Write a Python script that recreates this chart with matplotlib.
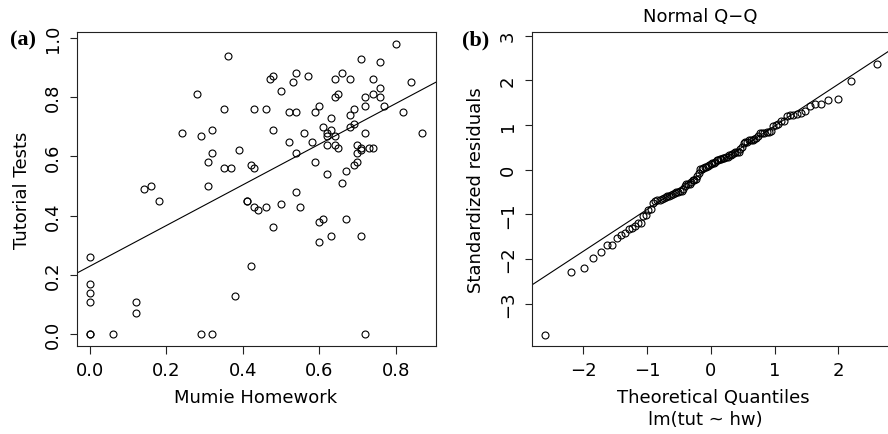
import statistics
import numpy as np
import matplotlib
matplotlib.use('Agg')
import matplotlib.pyplot as plt

# Mumie homework score vs tutorial test score, one pair per student
hw = [0.36, 0.47, 0.28, 0.35, 0.43, 0.46, 0.24, 0.29, 0.32, 0.39, 0.32, 0.31, 0.35,
      0.37, 0.42, 0.43, 0.14, 0.16, 0.31, 0.18, 0.41, 0.41, 0.43, 0.44, 0.46,
      0.00, 0.00, 0.00, 0.00, 0.00, 0.00, 0.06, 0.12, 0.12, 0.29, 0.32, 0.38, 0.42,
      0.48, 0.50, 0.54, 0.55, 0.60, 0.61, 0.60, 0.63, 0.67, 0.66, 0.71, 0.72,
      0.80, 0.71, 0.76, 0.48, 0.54, 0.53, 0.57, 0.50, 0.64, 0.66, 0.68, 0.74, 0.84,
      0.76, 0.74, 0.72, 0.76, 0.64, 0.65, 0.72, 0.77, 0.82, 0.69, 0.68, 0.60, 0.59,
      0.52, 0.54, 0.63, 0.61, 0.63, 0.62, 0.62, 0.64, 0.68, 0.69, 0.72, 0.87, 0.48,
      0.56, 0.52, 0.58, 0.62, 0.64, 0.65, 0.70, 0.71, 0.71, 0.73, 0.74, 0.70, 0.54,
      0.59, 0.70, 0.69, 0.67, 0.62]
tut = [0.94, 0.86, 0.81, 0.76, 0.76, 0.76, 0.68, 0.67, 0.69, 0.62, 0.61, 0.58, 0.56,
       0.56, 0.57, 0.56, 0.49, 0.50, 0.50, 0.45, 0.45, 0.45, 0.43, 0.42, 0.43,
       0.26, 0.17, 0.14, 0.11, 0.00, 0.00, 0.00, 0.11, 0.07, 0.00, 0.00, 0.13, 0.23,
       0.36, 0.44, 0.48, 0.43, 0.38, 0.39, 0.31, 0.33, 0.39, 0.51, 0.33, 0.00,
       0.98, 0.93, 0.92, 0.87, 0.88, 0.85, 0.87, 0.82, 0.86, 0.88, 0.86, 0.86, 0.85,
       0.83, 0.81, 0.80, 0.80, 0.80, 0.81, 0.77, 0.77, 0.75, 0.76, 0.74, 0.77, 0.75,
       0.75, 0.75, 0.73, 0.70, 0.69, 0.68, 0.67, 0.67, 0.70, 0.71, 0.68, 0.68, 0.69,
       0.68, 0.65, 0.65, 0.64, 0.64, 0.63, 0.64, 0.63, 0.62, 0.63, 0.63, 0.61, 0.61,
       0.58, 0.58, 0.57, 0.55, 0.54]

x_ticks_a = [0.0, 0.2, 0.4, 0.6, 0.8]
y_ticks_a = [0.0, 0.2, 0.4, 0.6, 0.8, 1.0]
x_ticks_b = [-2, -1, 0, 1, 2]
y_ticks_b = [-3, -2, -1, 0, 1, 2, 3]

plt.rcParams['font.family'] = ['DejaVu Sans']
plt.rcParams['font.size'] = 13


def r_range(v, extra_top=0.0):
    lo, hi = min(v), max(v)
    hi = hi + (hi - lo) * extra_top
    d = (hi - lo) * 0.04
    return lo - d, hi + d


def style(ax):
    for s in ax.spines.values():
        s.set_linewidth(0.8)
        s.set_color('#222222')
    ax.tick_params(direction='out', length=5.4, width=0.8, color='#222222',
                   labelsize=13, pad=5.5)
    ax.tick_params(axis='y', labelrotation=90)
    for lab in ax.get_yticklabels():
        lab.set_va('center')


x = np.array(hw)
y = np.array(tut)
n = len(x)

# linear fit tut ~ hw
slope, icpt = np.polyfit(x, y, 1)
resid = y - (icpt + slope * x)
lev = 1 / n + (x - x.mean()) ** 2 / ((x - x.mean()) ** 2).sum()
s = np.sqrt((resid ** 2).sum() / (n - 2))
std_res = np.sort(resid / (s * np.sqrt(1 - lev)))
nd = statistics.NormalDist()
theo = np.array([nd.inv_cdf((i + 0.5) / n) for i in range(n)])
q1, q3 = np.quantile(std_res, [0.25, 0.75])
z1, z3 = nd.inv_cdf(0.25), nd.inv_cdf(0.75)
qq_slope = (q3 - q1) / (z3 - z1)
qq_icpt = q1 - qq_slope * z1

fig = plt.figure(figsize=(8.88, 4.35), dpi=100)
ax1 = fig.add_axes([0.0864, 0.203, 0.4043, 0.7205])
ax2 = fig.add_axes([0.599, 0.2016, 0.4032, 0.7218])

ax1.plot(x, y, 'o', mfc='none', mec='black', ms=5, mew=0.8)
ax1.axline((0, icpt), slope=slope, color='black', lw=0.8)
ax1.set_xlim(*r_range(hw))
ax1.set_ylim(*r_range(tut))
ax1.set_xticks(x_ticks_a)
ax1.set_yticks(y_ticks_a)
ax1.set_xticklabels([f'{v:.1f}' for v in x_ticks_a])
ax1.set_yticklabels([f'{v:.1f}' for v in y_ticks_a])
style(ax1)

ax2.plot(theo, std_res, 'o', mfc='none', mec='black', ms=5, mew=0.8)
ax2.axline((0, qq_icpt), slope=qq_slope, color='black', lw=0.8)
ax2.set_xlim(*r_range(theo))
ax2.set_ylim(*r_range(std_res, extra_top=0.075))
ax2.set_xticks(x_ticks_b)
ax2.set_yticks(y_ticks_b)
style(ax2)

W, H = 888, 435
def ft(px, py, txt, **kw):
    fig.text(px / W, 1 - py / H, txt, ha='center', va='center', **kw)

ft(256, 398, 'Mumie Homework')
ft(22, 190, 'Tutorial Tests', rotation=90)
ft(713, 398, 'Theoretical Quantiles')
ft(705, 420, 'lm(tut ~ hw)')
ft(476, 190, 'Standardized residuals', rotation=90)
ft(700, 17.5, 'Normal Q\u2212Q')
ft(23, 40, '(a)', family='Liberation Serif', weight='bold', fontsize=16)
ft(475.5, 40, '(b)', family='Liberation Serif', weight='bold', fontsize=16)

fig.savefig('out.png', dpi=100)
